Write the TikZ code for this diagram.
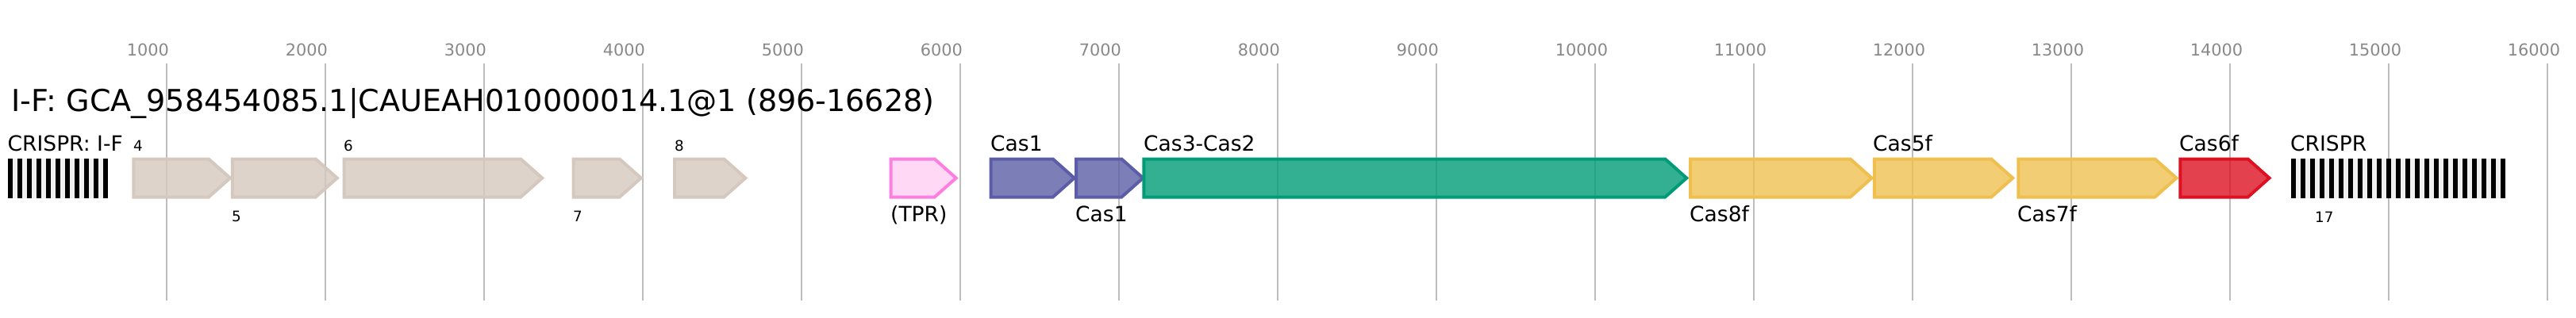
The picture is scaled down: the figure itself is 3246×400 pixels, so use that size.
\documentclass[tikz,border=0pt]{standalone}
\usepackage{fontspec}
\setmainfont{DejaVu Sans}

\definecolor{gridgray}{RGB}{190,190,190}
\definecolor{tickgray}{RGB}{136,136,136}
\definecolor{hypo}{RGB}{213,200,190}
\definecolor{tpr}{RGB}{255,127,224}
\definecolor{cas1}{RGB}{91,94,166}
\definecolor{cas3}{RGB}{0,155,119}
\definecolor{casf}{RGB}{239,192,80}
\definecolor{cas6}{RGB}{221,17,34}
\definecolor{spacer}{RGB}{240,240,240}

\begin{document}
\begin{tikzpicture}[x=1pt, y=-1pt,
	gridline/.style={draw=gridgray, line width=2pt},
	ticklab/.style={anchor=base west, inner sep=0pt, text=tickgray, font=\fontsize{20.8}{24}\selectfont},
	titlelab/.style={anchor=base west, inner sep=0pt, font=\fontsize{38.1}{40}\selectfont},
	genelab/.style={anchor=base west, inner sep=0pt, font=\fontsize{26.5}{30}\selectfont},
	numlab/.style={anchor=base west, inner sep=0pt, font=\fontsize{18.3}{21}\selectfont},
	genebox/.style={draw=#1, fill=#1, fill opacity=0.8, line width=4pt, line join=miter}]
	\useasboundingbox (0,0) rectangle (3246,400);

	% scale
	\foreach \k in {1,...,16} {
		\draw[gridline] (9.7+200*\k,80) -- (9.7+200*\k,379.3);
		\node[ticklab] (t\k) at (9.7+200*\k-50,70) {\k000};
	}

	\node[titlelab] (title) at (14.4,140.7) {I-F: GCA\_958454085.1|CAUEAH010000014.1@1 (896-16628)};

	% CRISPR arrays
	\fill[spacer] (10,200) rectangle (136,250);
	\foreach \i in {0,...,10}
		\fill[black] (10+12*\i,200) rectangle (16+12*\i,250);
	\fill[spacer] (2887.3,200) rectangle (3157.3,250);
	\foreach \i in {0,...,22}
		\fill[black] (2887.3+12*\i,200) rectangle (2893.3+12*\i,250);

	% genes
	\foreach \l/\t/\c in {168.3/290/hypo, 292.8/424.8/hypo, 433.5/683.2/hypo, 722.7/807.7/hypo, 850.1/939.3/hypo,
		1248.7/1353.7/cas1, 1356/1440.3/cas1, 1441.3/2125.2/cas3,
		2130.2/2358.5/casf, 2361.9/2536.2/casf, 2543.4/2742.4/casf, 2747.4/2859.5/cas6}
		\draw[genebox=\c] (\l,200.5) -- (\t-27,200.5) -- (\t,224.5) -- (\t-27,248.5) -- (\l,248.5) -- cycle;
	\draw[genebox=tpr, fill opacity=0.3] (1122.7,200.5) -- (1177.7,200.5) -- (1204.7,224.5) -- (1177.7,248.5) -- (1122.7,248.5) -- cycle;

	% labels
	\node[genelab] (arr1) at (9.5,190) {CRISPR: I-F};
	\node[numlab] (g4) at (168,190) {4};
	\node[numlab] (g5) at (292,279) {5};
	\node[numlab] (g6) at (433,190) {6};
	\node[numlab] (g7) at (722,279) {7};
	\node[numlab] (g8) at (850,190) {8};
	\node[genelab] (tpr) at (1122,279) {(TPR)};
	\node[genelab] (cas1a) at (1248,190) {Cas1};
	\node[genelab] (cas1b) at (1355,279) {Cas1};
	\node[genelab] (cas3) at (1441,190) {Cas3-Cas2};
	\node[genelab] (cas8) at (2129,279) {Cas8f};
	\node[genelab] (cas5) at (2360,190) {Cas5f};
	\node[genelab] (cas7) at (2542,279) {Cas7f};
	\node[genelab] (cas6) at (2746,190) {Cas6f};
	\node[genelab] (arr2) at (2886,190) {CRISPR};
	\node[numlab] (n17) at (2917,280) {17};
\end{tikzpicture}
\end{document}
